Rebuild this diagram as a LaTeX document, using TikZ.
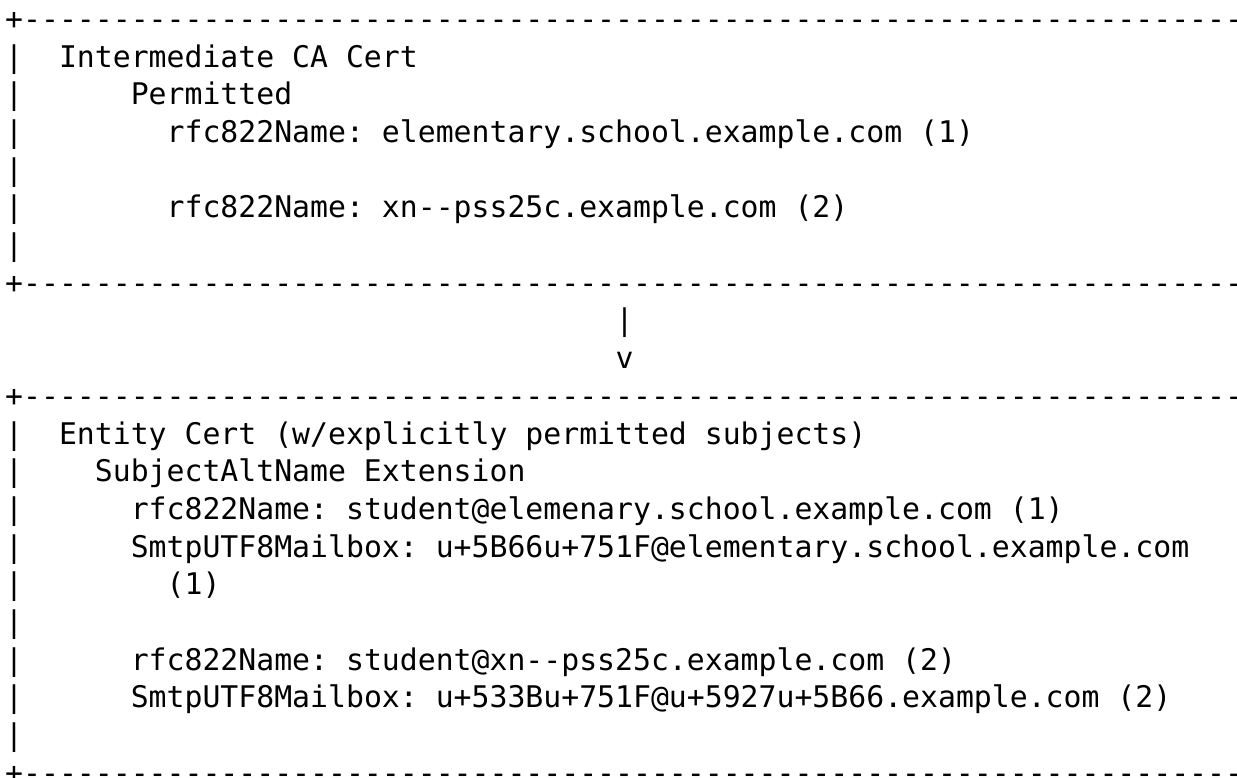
\documentclass[tikz,border=0pt]{standalone}
\usepackage{fontspec}
\setmonofont{DejaVu Sans Mono}
\frenchspacing

\newcommand\boxedge{+----------------------------------------------------------------------}
\tikzset{
  asciirow/.style={anchor=base west, inner sep=0pt,
    font=\ttfamily\fontsize{29.8}{37.7}\selectfont}
}

\begin{document}
\begin{tikzpicture}[x=1pt, y=1pt]
  \fill[white] (0, 0) rectangle (1237, -777);
  \clip (0, 0) rectangle (1237, -777);
  % issuing CA box
  \node[asciirow] (row0)  at (5.00, -29.30)  {\boxedge};
  \node[asciirow] (row1)  at (5.00, -67.00)  {|~~Intermediate CA Cert};
  \node[asciirow] (row2)  at (5.00, -104.70) {|~~~~~~Permitted};
  \node[asciirow] (row3)  at (5.00, -142.40) {|~~~~~~~~rfc822Name: elementary.school.example.com (1)};
  \node[asciirow] (row4)  at (5.00, -180.10) {|};
  \node[asciirow] (row5)  at (5.00, -217.80) {|~~~~~~~~rfc822Name: xn--pss25c.example.com (2)};
  \node[asciirow] (row6)  at (5.00, -255.50) {|};
  \node[asciirow] (row7)  at (5.00, -293.20) {\boxedge};
  % arrow
  \node[asciirow] (row8)  at (615.30, -330.90) {|};
  \node[asciirow] (row9)  at (615.30, -368.60) {v};
  % entity box
  \node[asciirow] (row10) at (5.00, -406.30) {\boxedge};
  \node[asciirow] (row11) at (5.00, -444.00) {|~~Entity Cert (w/explicitly permitted subjects)};
  \node[asciirow] (row12) at (5.00, -481.70) {|~~~~SubjectAltName Extension};
  \node[asciirow] (row13) at (5.00, -519.40) {|~~~~~~rfc822Name: student@elemenary.school.example.com (1)};
  \node[asciirow] (row14) at (5.00, -557.10) {|~~~~~~SmtpUTF8Mailbox: u+5B66u+751F@elementary.school.example.com};
  \node[asciirow] (row15) at (5.00, -594.80) {|~~~~~~~~(1)};
  \node[asciirow] (row16) at (5.00, -632.50) {|};
  \node[asciirow] (row17) at (5.00, -670.20) {|~~~~~~rfc822Name: student@xn--pss25c.example.com (2)};
  \node[asciirow] (row18) at (5.00, -707.90) {|~~~~~~SmtpUTF8Mailbox: u+533Bu+751F@u+5927u+5B66.example.com (2)};
  \node[asciirow] (row19) at (5.00, -745.60) {|};
  \node[asciirow] (row20) at (5.00, -783.30) {\boxedge};
\end{tikzpicture}
\end{document}
